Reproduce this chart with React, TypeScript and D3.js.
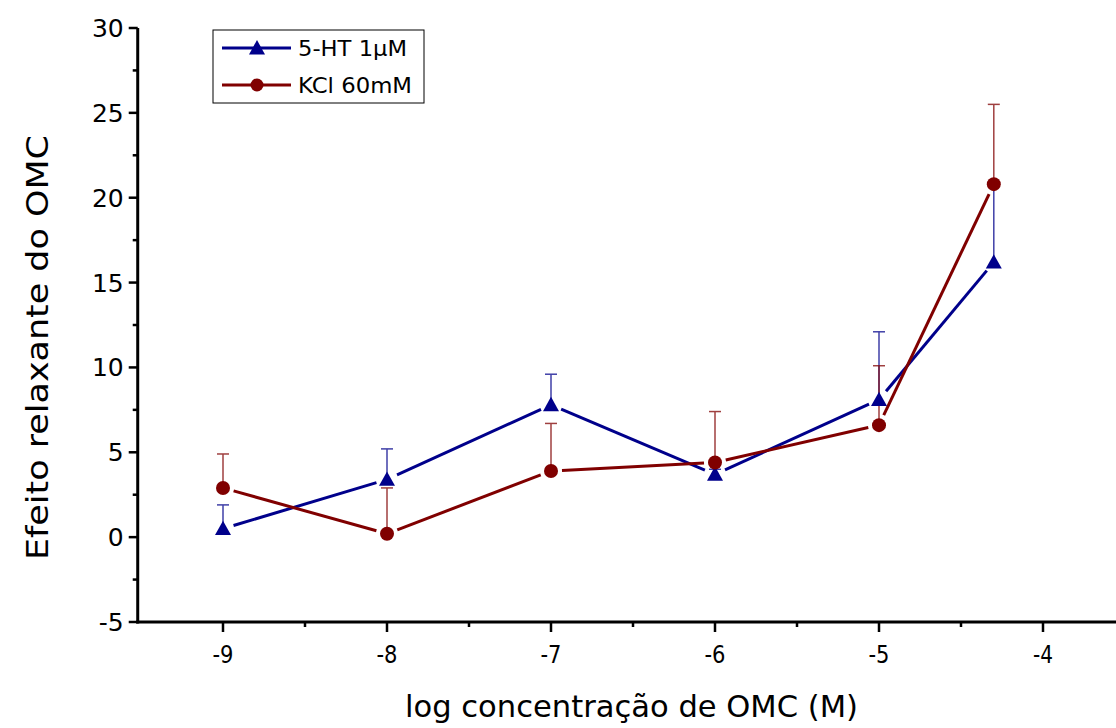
import React from "react";
import * as d3 from "d3";

const xValues = [-9, -8, -7, -6, -5, -4.3];
const htValues = [0.5, 3.4, 7.8, 3.7, 8.1, 16.2];
const htErr = [1.4, 1.8, 1.8, 0.3, 4.0, 4.6];
const kclValues = [2.9, 0.2, 3.9, 4.4, 6.6, 20.8];
const kclErr = [2.0, 2.7, 2.8, 3.0, 3.5, 4.7];
const xTicks = [-9, -8, -7, -6, -5, -4];
const yTicks = [-5, 0, 5, 10, 15, 20, 25, 30];
const seriesNames = ["5-HT 1µM", "KCl 60mM"];

const BLUE = "#00008B";
const RED = "#800000";

export default function App() {
  const W = 1116, H = 728;
  const x = d3.scaleLinear().domain([-9, -4]).range([223, 1043]);
  const y = d3.scaleLinear().domain([-5, 30]).range([622, 28]);
  const axisX = x(-9.52);
  const axisY = y(-5);
  const font = "'DejaVu Sans', Verdana, sans-serif";

  const segs = (vals: number[], gap: number) => {
    const out: JSX.Element[] = [];
    for (let i = 0; i < vals.length - 1; i++) {
      const x1 = x(xValues[i]), y1 = y(vals[i]);
      const x2 = x(xValues[i + 1]), y2 = y(vals[i + 1]);
      const L = Math.hypot(x2 - x1, y2 - y1);
      const ux = (x2 - x1) / L, uy = (y2 - y1) / L;
      out.push(
        <line key={i} x1={x1 + ux * gap} y1={y1 + uy * gap} x2={x2 - ux * gap} y2={y2 - uy * gap} />
      );
    }
    return out;
  };

  const tri = (cx: number, cy: number, s = 8) =>
    `M${cx},${cy - s} L${cx + s},${cy + s * 0.8} L${cx - s},${cy + s * 0.8} Z`;

  const minorY = d3.range(-2.5, 30, 5);
  const minorX = d3.range(-8.5, -3.4, 1);

  return (
    <svg width={W} height={H} style={{ display: "block", position: "absolute", left: 0, top: 0 }}>
      <rect width={W} height={H} fill="white" />
      {/* error bars */}
      <g stroke={BLUE} strokeWidth={1.5} opacity={0.75}>
        {xValues.map((xv, i) => (
          <g key={i}>
            <line x1={x(xv)} x2={x(xv)} y1={y(htValues[i])} y2={y(htValues[i] + htErr[i])} />
            <line x1={x(xv) - 6} x2={x(xv) + 6} y1={y(htValues[i] + htErr[i])} y2={y(htValues[i] + htErr[i])} />
          </g>
        ))}
      </g>
      <g stroke={RED} strokeWidth={1.5} opacity={0.75}>
        {xValues.map((xv, i) => (
          <g key={i}>
            <line x1={x(xv)} x2={x(xv)} y1={y(kclValues[i])} y2={y(kclValues[i] + kclErr[i])} />
            <line x1={x(xv) - 6} x2={x(xv) + 6} y1={y(kclValues[i] + kclErr[i])} y2={y(kclValues[i] + kclErr[i])} />
          </g>
        ))}
      </g>
      {/* lines */}
      <g stroke={BLUE} strokeWidth={3}>{segs(htValues, 11)}</g>
      <g stroke={RED} strokeWidth={3}>{segs(kclValues, 11)}</g>
      {/* markers */}
      {xValues.map((xv, i) => (
        <path key={"t" + i} d={tri(x(xv), y(htValues[i]))} fill={BLUE} />
      ))}
      {xValues.map((xv, i) => (
        <circle key={"c" + i} cx={x(xv)} cy={y(kclValues[i])} r={7} fill={RED} />
      ))}

      {/* axes */}
      <g stroke="black">
        <line x1={axisX} x2={axisX} y1={y(30)} y2={axisY + 1.5} strokeWidth={3} />
        <line x1={axisX - 1.5} x2={W} y1={axisY} y2={axisY} strokeWidth={3} />
        {yTicks.map((t) => (
          <line key={t} x1={axisX - 9} x2={axisX} y1={y(t)} y2={y(t)} strokeWidth={2.5} />
        ))}
        {minorY.map((t) => (
          <line key={t} x1={axisX - 5} x2={axisX} y1={y(t)} y2={y(t)} strokeWidth={2.5} />
        ))}
        {xTicks.map((t) => (
          <line key={t} x1={x(t)} x2={x(t)} y1={axisY} y2={axisY + 10} strokeWidth={2.5} />
        ))}
        {minorX.map((t) => (
          <line key={t} x1={x(t)} x2={x(t)} y1={axisY} y2={axisY + 5} strokeWidth={2.5} />
        ))}
      </g>
      <g fontFamily={font} fontSize={25} fill="black">
        {yTicks.map((t) => (
          <text key={t} x={axisX - 14} y={y(t) + 9} textAnchor="end">
            {t}
          </text>
        ))}
      </g>
      <g fontFamily={font} fontSize={24} fill="black">
        {xTicks.map((t) => (
          <text key={t} x={x(t)} y={axisY + 41} textAnchor="middle" textLength={t === -4 ? 20 : 21} lengthAdjust="spacingAndGlyphs">
            {t}
          </text>
        ))}
      </g>
      <text
        x={405}
        y={717}
        fontFamily={font}
        fontSize={31}
        textLength={453}
        lengthAdjust="spacingAndGlyphs"
      >
        log concentração de OMC (M)
      </text>
      <text
        transform={`translate(48,560) rotate(-90)`}
        fontFamily={font}
        fontSize={31}
        textLength={425}
        lengthAdjust="spacingAndGlyphs"
      >
        Efeito relaxante do OMC
      </text>

      {/* legend */}
      <rect x={213} y={30} width={211} height={73} fill="white" stroke="black" strokeWidth={1} />
      <line x1={222} x2={291} y1={48} y2={48} stroke={BLUE} strokeWidth={3} />
      <path d={tri(257, 48, 8)} fill={BLUE} />
      <text x={298} y={56} fontFamily={font} fontSize={22} textLength={109} lengthAdjust="spacingAndGlyphs">
        {seriesNames[0]}
      </text>
      <line x1={222} x2={291} y1={85} y2={85} stroke={RED} strokeWidth={3} />
      <circle cx={257} cy={85} r={6.5} fill={RED} />
      <text x={298} y={93} fontFamily={font} fontSize={22} textLength={114} lengthAdjust="spacingAndGlyphs">
        {seriesNames[1]}
      </text>
    </svg>
  );
}
